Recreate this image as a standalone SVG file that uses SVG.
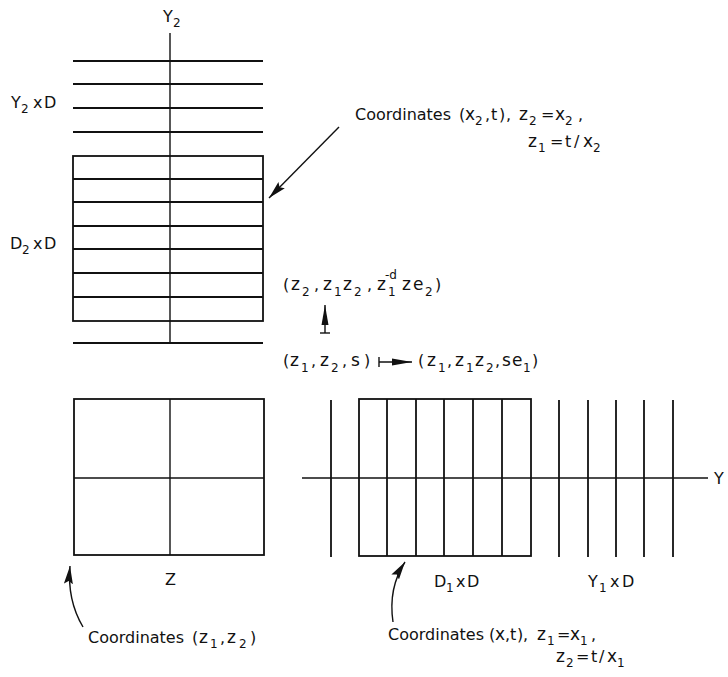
<svg xmlns="http://www.w3.org/2000/svg" width="728" height="677" viewBox="0 0 728 677">
<style>
text{font-family:"DejaVu Sans","Liberation Sans",sans-serif;font-size:16px;fill:#111}
.m{font-size:17px}
.s{font-size:12px}
.ln{stroke:#111;stroke-width:1.8;fill:none}
.ax{stroke:#111;stroke-width:1.4;fill:none}
</style>
<defs>
<marker id="ah" viewBox="0 0 18 9" refX="18" refY="4.5" markerWidth="18" markerHeight="9" markerUnits="userSpaceOnUse" orient="auto">
<path d="M0,0 L18,4.5 L0,9 L3,4.5 Z" fill="#111"/>
</marker>
<marker id="ah2" viewBox="0 0 20 9" refX="20" refY="4.5" markerWidth="20" markerHeight="9" markerUnits="userSpaceOnUse" orient="auto">
<path d="M0,1 L20,4.5 L0,8 Z" fill="#111"/>
</marker>
</defs>
<rect width="728" height="677" fill="#fff"/>

<g id="top-diagram">
<line class="ax" x1="170" y1="33" x2="170" y2="343"/>
<line class="ln" x1="73" y1="61" x2="263" y2="61"/>
<line class="ln" x1="73" y1="84" x2="263" y2="84"/>
<line class="ln" x1="73" y1="108" x2="263" y2="108"/>
<line class="ln" x1="73" y1="132" x2="263" y2="132"/>
<rect class="ln" x="73" y="156" width="190" height="165"/>
<line class="ln" x1="73" y1="179" x2="263" y2="179"/>
<line class="ln" x1="73" y1="202" x2="263" y2="202"/>
<line class="ln" x1="73" y1="226" x2="263" y2="226"/>
<line class="ln" x1="73" y1="249" x2="263" y2="249"/>
<line class="ln" x1="73" y1="273" x2="263" y2="273"/>
<line class="ln" x1="73" y1="297" x2="263" y2="297"/>
<line class="ln" x1="73" y1="343" x2="263" y2="343"/>
<text x="163" y="22">Y<tspan class="s" x="173" y="27">2</tspan></text>
<text x="11" y="108">Y<tspan class="s" x="21" y="113">2</tspan><tspan x="33" y="108">x</tspan><tspan x="44" y="108">D</tspan></text>
<text x="10" y="249">D<tspan class="s" x="22" y="254">2</tspan><tspan x="33" y="249">x</tspan><tspan x="44" y="249">D</tspan></text>
</g>

<g id="label-top">
<text y="120"><tspan x="355">Coordinates</tspan><tspan x="459">(</tspan><tspan class="m" x="465">x</tspan><tspan class="s" x="475" y="125">2</tspan><tspan x="485" y="120">,</tspan><tspan x="491">t</tspan><tspan x="499">)</tspan><tspan x="506">,</tspan><tspan class="m" x="519">z</tspan><tspan class="s" x="529" y="125">2</tspan><tspan x="541" y="120">=</tspan><tspan class="m" x="555">x</tspan><tspan class="s" x="565" y="125">2</tspan><tspan x="578" y="120">,</tspan></text>
<text y="147"><tspan class="m" x="528">z</tspan><tspan class="s" x="538" y="152">1</tspan><tspan x="550" y="147">=</tspan><tspan x="565">t</tspan><tspan x="574">/</tspan><tspan class="m" x="583">x</tspan><tspan class="s" x="593" y="152">2</tspan></text>
</g>

<g id="maps">
<text y="290"><tspan x="283">(</tspan><tspan class="m" x="291">z</tspan><tspan class="s" x="302" y="296">2</tspan><tspan x="314" y="290">,</tspan><tspan class="m" x="323">z</tspan><tspan class="s" x="334" y="296">1</tspan><tspan class="m" x="343" y="290">z</tspan><tspan class="s" x="354" y="296">2</tspan><tspan x="367" y="290">,</tspan><tspan class="m" x="377">z</tspan><tspan class="s" x="388" y="296">1</tspan><tspan class="s" x="385" y="279">-d</tspan><tspan class="m" x="402" y="290">z</tspan><tspan class="m" x="413">e</tspan><tspan class="s" x="425" y="296">2</tspan><tspan x="435" y="290">)</tspan></text>
<text y="366"><tspan x="283">(</tspan><tspan class="m" x="290">z</tspan><tspan class="s" x="301" y="372">1</tspan><tspan x="311" y="366">,</tspan><tspan class="m" x="320">z</tspan><tspan class="s" x="331" y="372">2</tspan><tspan x="342" y="366">,</tspan><tspan class="m" x="351">s</tspan><tspan x="364">)</tspan></text>
<text y="366"><tspan x="418">(</tspan><tspan class="m" x="427">z</tspan><tspan class="s" x="438" y="372">1</tspan><tspan x="447" y="366">,</tspan><tspan class="m" x="455">z</tspan><tspan class="s" x="466" y="372">1</tspan><tspan class="m" x="475" y="366">z</tspan><tspan class="s" x="486" y="372">2</tspan><tspan x="495" y="366">,</tspan><tspan class="m" x="502">s</tspan><tspan class="m" x="512">e</tspan><tspan class="s" x="523" y="372">1</tspan><tspan x="532" y="366">)</tspan></text>
</g>

<g id="bottom-left">
<rect class="ln" x="74" y="399" width="190" height="156"/>
<line class="ax" x1="170" y1="399" x2="170" y2="555"/>
<line class="ax" x1="74" y1="478" x2="264" y2="478"/>
<text x="165" y="585">Z</text>
<text y="643"><tspan x="88">Coordinates</tspan><tspan x="192">(</tspan><tspan class="m" x="199">z</tspan><tspan class="s" x="210" y="648">1</tspan><tspan x="220" y="643">,</tspan><tspan class="m" x="227">z</tspan><tspan class="s" x="239" y="648">2</tspan><tspan x="250" y="643">)</tspan></text>
</g>

<g id="bottom-right">
<line class="ax" x1="302" y1="478" x2="708" y2="478"/>
<rect class="ln" x="359" y="399" width="172" height="157"/>
<line class="ln" x1="331" y1="400" x2="331" y2="557"/>
<line class="ln" x1="387" y1="399" x2="387" y2="556"/>
<line class="ln" x1="416" y1="399" x2="416" y2="556"/>
<line class="ln" x1="444" y1="399" x2="444" y2="556"/>
<line class="ln" x1="473" y1="399" x2="473" y2="556"/>
<line class="ln" x1="502" y1="399" x2="502" y2="556"/>
<line class="ln" x1="559" y1="400" x2="559" y2="557"/>
<line class="ln" x1="588" y1="400" x2="588" y2="557"/>
<line class="ln" x1="616" y1="400" x2="616" y2="557"/>
<line class="ln" x1="644" y1="400" x2="644" y2="557"/>
<line class="ln" x1="673" y1="400" x2="673" y2="557"/>
<text x="714" y="484">Y</text>
<text x="434" y="587">D<tspan class="s" x="446" y="592">1</tspan><tspan x="456" y="587">x</tspan><tspan x="467" y="587">D</tspan></text>
<text x="588" y="587">Y<tspan class="s" x="599" y="592">1</tspan><tspan x="610" y="587">x</tspan><tspan x="622" y="587">D</tspan></text>
<text y="640"><tspan x="388">Coordinates</tspan><tspan x="489">(</tspan><tspan class="m" x="495">x</tspan><tspan x="505">,</tspan><tspan x="510">t</tspan><tspan x="517">)</tspan><tspan x="523">,</tspan><tspan class="m" x="537">z</tspan><tspan class="s" x="547" y="645">1</tspan><tspan x="557" y="640">=</tspan><tspan class="m" x="570">x</tspan><tspan class="s" x="580" y="645">1</tspan><tspan x="591" y="640">,</tspan></text>
<text y="662"><tspan class="m" x="556">z</tspan><tspan class="s" x="566" y="667">2</tspan><tspan x="576" y="662">=</tspan><tspan x="591">t</tspan><tspan x="599">/</tspan><tspan class="m" x="607">x</tspan><tspan class="s" x="617" y="667">1</tspan></text>
</g>

<g id="connectors">
<line class="ax" x1="339" y1="127" x2="269" y2="198" marker-end="url(#ah)"/>
<line class="ax" x1="325" y1="333" x2="325" y2="305" marker-end="url(#ah2)"/>
<line class="ax" x1="320" y1="333" x2="330" y2="333"/>
<line class="ax" x1="379" y1="362" x2="412" y2="362" marker-end="url(#ah2)"/>
<line class="ax" x1="379" y1="357" x2="379" y2="367"/>
<path class="ax" d="M83,627 Q67,600 70,566" marker-end="url(#ah)"/>
<path class="ax" d="M393,622 Q388,588 405,562" marker-end="url(#ah)"/>
</g>
</svg>
